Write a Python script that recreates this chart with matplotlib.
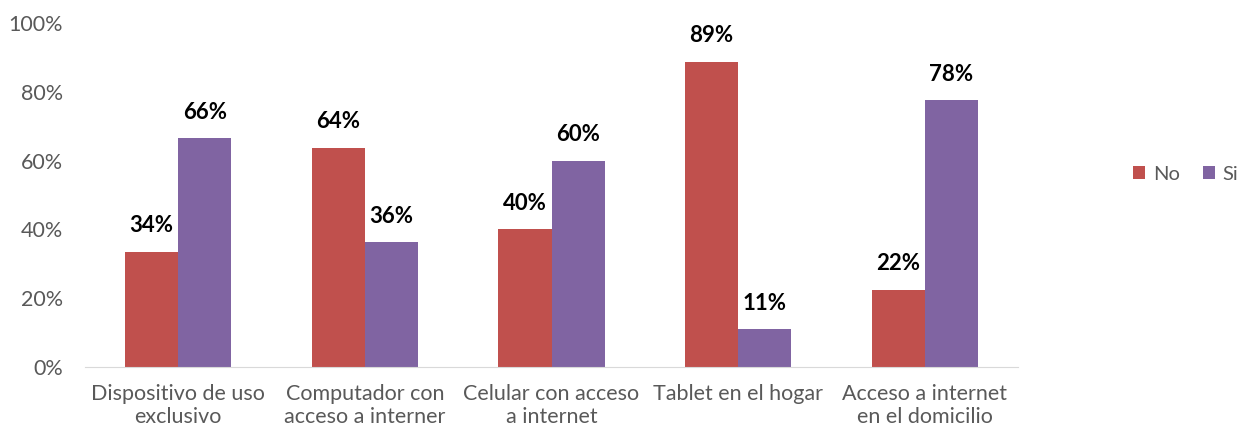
import matplotlib.pyplot as plt
import numpy as np
from matplotlib.ticker import PercentFormatter

categories = ['Dispositivo de uso\nexclusivo', 'Computador con\nacceso a interner',
              'Celular con acceso\na internet', 'Tablet en el hogar',
              'Acceso a internet\nen el domicilio']
no_vals = [0.335, 0.637, 0.401, 0.887, 0.224]
si_vals = [0.665, 0.363, 0.599, 0.110, 0.776]

plt.rcParams['font.family'] = ['Lato', 'DejaVu Sans']

fig = plt.figure(figsize=(12.51, 4.37), dpi=100)
ax = fig.add_axes([85 / 1251, 70 / 437, 933 / 1251, 344 / 437])

x = np.arange(len(categories))
w = 0.285
b1 = ax.bar(x - w / 2, no_vals, w, color='#c0504d', label='No')
b2 = ax.bar(x + w / 2, si_vals, w, color='#8064a2', label='Si')

for bars in (b1, b2):
    for bar in bars:
        h = bar.get_height()
        ax.text(bar.get_x() + bar.get_width() / 2, h + 0.045, f'{round(h * 100):.0f}%',
                ha='center', va='bottom', fontsize=16, fontweight='bold', color='black')

ax.set_xlim(-0.5, len(categories) - 0.5)
ax.set_ylim(0, 1)
ax.set_yticks(np.arange(0, 1.01, 0.2))
ax.yaxis.set_major_formatter(PercentFormatter(1.0, decimals=0))
ax.set_xticks(x)
ax.set_xticklabels(categories)
ax.tick_params(axis='both', length=0, labelsize=15.5, labelcolor='#595959')
ax.tick_params(axis='y', pad=16)
ax.tick_params(axis='x', pad=12)

for s in ('top', 'right', 'left'):
    ax.spines[s].set_visible(False)
ax.spines['bottom'].set_color('#d9d9d9')

leg = ax.legend(loc='center left', bbox_to_anchor=(1.115, 0.56), ncol=2, frameon=False,
                fontsize=14.5, handlelength=0.6, handleheight=0.6, columnspacing=1.1,
                handletextpad=0.4, borderaxespad=0)
for t in leg.get_texts():
    t.set_color('#595959')

fig.savefig('out.png', dpi=100)
